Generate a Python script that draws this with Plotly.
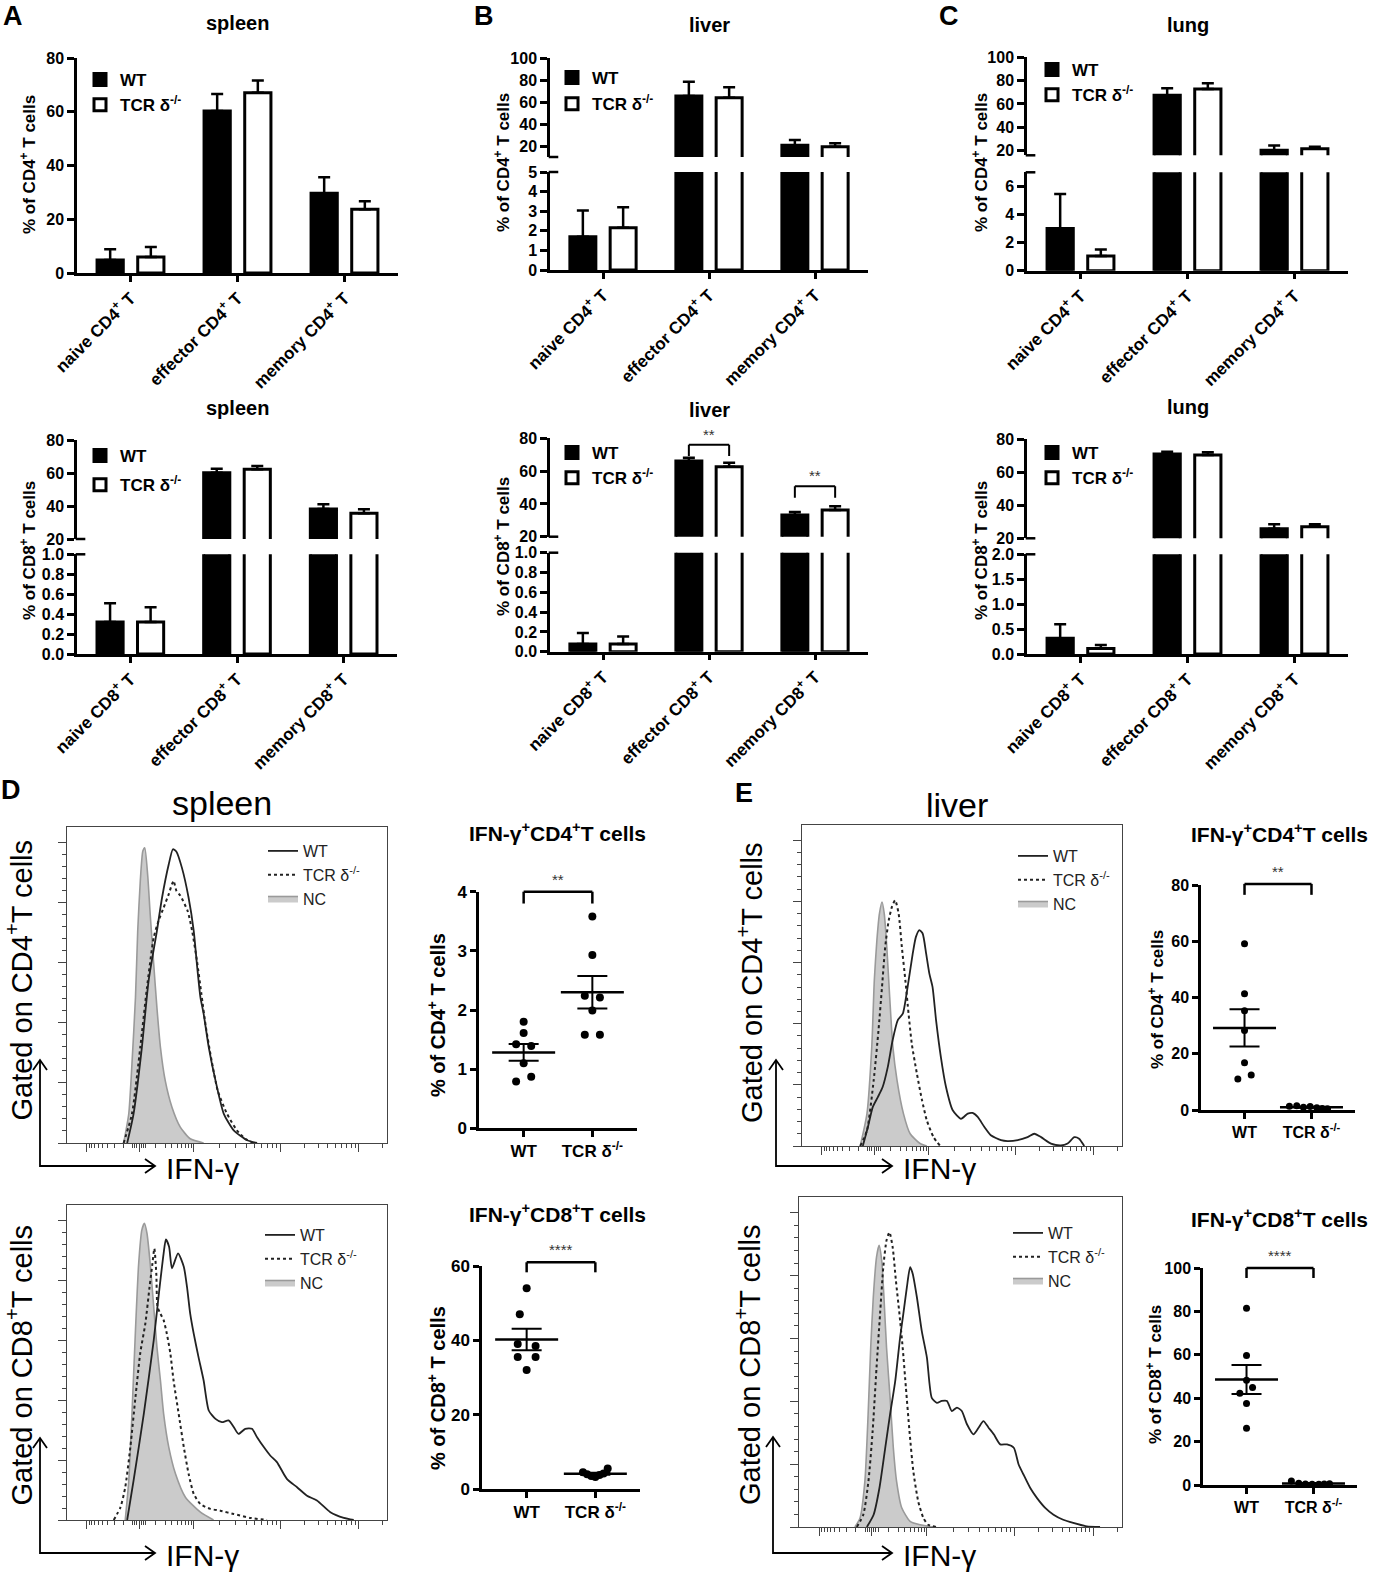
import numpy as np
import plotly.graph_objects as go

W, H = 1379, 1577
FONT = "Liberation Sans, Arial, Helvetica, sans-serif"

# ---------------- bar chart data (mean, SD) ----------------
groups = ["WT", "TCR δ<sup>-/-</sup>"]
cd4_cats = ["naive CD4<sup>+</sup> T", "effector CD4<sup>+</sup> T", "memory CD4<sup>+</sup> T"]
cd8_cats = ["naive CD8<sup>+</sup> T", "effector CD8<sup>+</sup> T", "memory CD8<sup>+</sup> T"]

spleen_cd4_wt = [4.8, 60.3, 29.7]
spleen_cd4_wt_sd = [4.0, 6.3, 5.9]
spleen_cd4_ko = [6.0, 67.1, 23.7]
spleen_cd4_ko_sd = [3.7, 4.5, 3.0]

liver_cd4_wt = [1.70, 65.5, 20.6]
liver_cd4_wt_sd = [1.33, 13.0, 4.9]
liver_cd4_ko = [2.16, 63.9, 19.4]
liver_cd4_ko_sd = [1.04, 9.5, 3.0]

lung_cd4_wt = [3.01, 67.5, 20.3]
lung_cd4_wt_sd = [2.45, 6.0, 4.0]
lung_cd4_ko = [1.04, 72.9, 21.7]
lung_cd4_ko_sd = [0.47, 4.8, 1.7]

spleen_cd8_wt = [0.32, 60.2, 38.2]
spleen_cd8_wt_sd = [0.19, 2.4, 2.8]
spleen_cd8_ko = [0.32, 62.2, 35.6]
spleen_cd8_ko_sd = [0.15, 2.0, 2.4]

liver_cd8_wt = [0.078, 66.2, 33.2]
liver_cd8_wt_sd = [0.11, 2.0, 1.9]
liver_cd8_ko = [0.078, 62.7, 36.3]
liver_cd8_ko_sd = [0.075, 2.4, 2.2]

lung_cd8_wt = [0.315, 71.1, 25.8]
lung_cd8_wt_sd = [0.28, 1.4, 2.7]
lung_cd8_ko = [0.11, 70.5, 27.0]
lung_cd8_ko_sd = [0.07, 1.6, 1.5]

# significance brackets on liver CD8: (category, bracket top, leg bottom, label)
liver_cd8_sig = [(1, 76.0, 69.2, "**"), (2, 50.7, 43.8, "**")]

# ---------------- dot plot data ----------------
spl_ifn_cd4_wt = [1.80, 1.61, 1.42, 1.39, 1.10, 0.87, 0.79]
spl_ifn_cd4_wt_dx = [0, 0, -0.11, 0.11, 0, 0.11, -0.11]
spl_ifn_cd4_ko = [3.58, 2.93, 2.24, 2.21, 1.99, 1.58, 1.58]
spl_ifn_cd4_ko_dx = [0, 0, -0.11, 0.11, 0, -0.11, 0.11]

spl_ifn_cd8_wt = [54.0, 47.0, 39.0, 38.5, 35.5, 35.5, 32.0]
spl_ifn_cd8_wt_dx = [0, -0.1, -0.13, 0.13, -0.13, 0.13, 0]
spl_ifn_cd8_ko = [5.5, 4.5, 4.0, 3.5, 3.2, 3.8, 4.2]
spl_ifn_cd8_ko_dx = [0.18, -0.18, -0.12, -0.06, 0.0, 0.06, 0.12]

liv_ifn_cd4_wt = [59.1, 41.3, 35.3, 28.3, 16.8, 12.4, 11.0]
liv_ifn_cd4_wt_dx = [0, 0, 0, 0, 0, 0.1, -0.1]
liv_ifn_cd4_ko = [1.3, 1.5, 1.0, 1.2, 0.8, 0.5, 0.4]
liv_ifn_cd4_ko_dx = [-0.33, -0.22, -0.12, -0.02, 0.08, 0.16, 0.24]

liv_ifn_cd8_wt = [81.5, 59.7, 48.3, 42.3, 44.9, 37.5, 26.1]
liv_ifn_cd8_wt_dx = [0, 0, 0, -0.1, 0.09, 0, 0]
liv_ifn_cd8_ko = [1.8, 0.8, 0.5, 0.4, 0.3, 0.5, 0.6]
liv_ifn_cd8_ko_dx = [-0.33, -0.22, -0.12, -0.02, 0.08, 0.16, 0.24]

# ---------------- histogram data (display channel 0-1000, % of max) ----------------
spl_cd4_nc_x = [177, 193, 203, 214, 221, 229, 237, 243, 252, 260, 271, 281, 292, 307, 328, 354, 385, 427]
spl_cd4_nc_y = [0, 9.7, 26.3, 48.4, 70.5, 87, 97, 98.1, 89.2, 76, 59.4, 45, 31.8, 20.7, 11.9, 5.3, 1.4, 0]
spl_cd4_wt_x = [188, 208, 234, 255, 281, 297, 318, 331, 342, 359, 380, 396, 406, 417, 427, 443, 464, 490, 521, 563, 594]
spl_cd4_wt_y = [0, 9.7, 31.8, 53.9, 70.5, 81.5, 92.6, 97.6, 96.8, 91.5, 81.5, 70.5, 59.4, 48.4, 42.9, 31.8, 20.8, 9.7, 4.2, 0.9, 0]
spl_cd4_ko_x = [177, 203, 229, 250, 271, 286, 302, 318, 328, 333, 342, 354, 377, 391, 406, 420, 434, 450, 471, 500, 531, 557, 583]
spl_cd4_ko_y = [0, 9.7, 31.8, 51.7, 68.3, 73.8, 78.2, 82.7, 86, 87.1, 83.8, 82.2, 77.1, 70.5, 60.6, 49.5, 38.5, 28.5, 17.4, 9.7, 4.2, 1.4, 0]

spl_cd8_nc_x = [182, 193, 203, 214, 224, 234, 242, 250, 260, 271, 281, 292, 302, 318, 339, 370, 417, 458]
spl_cd8_nc_y = [0, 13.1, 35.4, 63.3, 85.5, 96.7, 98.9, 95.5, 85.5, 71, 57.7, 46.5, 35.4, 24.3, 15.4, 7.6, 2.6, 0]
spl_cd8_ko_x = [146, 167, 182, 198, 214, 229, 245, 258, 267, 273, 279, 283, 292, 302, 312, 323, 333, 349, 365, 380,
                396, 417, 448, 479, 521, 573, 625]
spl_cd8_ko_y = [0, 4.2, 10.9, 24.3, 41, 55.7, 65.6, 77.7, 85.5, 90.5, 82.2, 71, 68.8, 66.6, 62.1, 55.5, 46.5, 35.4, 24.3,
                15.4, 8.7, 5.3, 3.7, 3.1, 2, 0.7, 0]
spl_cd8_wt_x = [188, 208, 240, 271, 286, 302, 309, 319, 328, 347, 365, 375, 385, 396, 411, 427, 443, 464, 484, 505, 521,
                536, 557, 578, 594, 615, 635, 656, 687, 719, 750, 781, 823, 865, 896]
spl_cd8_wt_y = [0, 13.1, 35.4, 59.9, 74.4, 88.9, 93.5, 91.1, 83.9, 88.9, 84.4, 77.7, 68.8, 62.1, 54.3, 46.5, 36.5, 33.7,
                32.6, 33.2, 31, 28.7, 30.4, 30.4, 27.6, 24.3, 21.5, 19.3, 13.7, 10.9, 8.1, 6.5, 2.6, 0.7, 0]

liv_cd4_nc_x = [182, 203, 218, 226, 234, 242, 250, 257, 265, 274, 284, 297, 317, 338, 369, 390]
liv_cd4_nc_y = [0, 10.6, 32.4, 54.2, 67.3, 76, 79.8, 76, 65.1, 48.8, 32.4, 21.5, 10.6, 4, 0.8, 0]
liv_cd4_ko_x = [182, 203, 224, 239, 250, 260, 271, 281, 291, 302, 312, 323, 333, 343, 359, 375, 390, 411, 432]
liv_cd4_ko_y = [0, 5.1, 21.5, 37.8, 52, 65.1, 73.8, 78.2, 80.4, 76, 65.1, 54.2, 43.3, 33.5, 23.7, 15, 8.4, 2.9, 0]
liv_cd4_wt_x = [190, 206, 221, 237, 252, 268, 283, 299, 315, 330, 346, 356, 367, 377, 388, 398, 408, 419, 434, 450, 471,
                497, 518, 533, 549, 570, 590, 622, 642, 674, 705, 726, 747, 778, 809, 830, 851, 866, 882]
liv_cd4_wt_y = [0, 6.2, 12.7, 16, 19.3, 25.8, 34.5, 41.1, 43.3, 52, 62.9, 68.4, 70.6, 69.5, 62.9, 56.4, 52, 41.1, 29.1,
                19.3, 11.7, 8.9, 10.6, 10.8, 9.5, 6.2, 3.5, 1.9, 1.6, 1.9, 2.9, 4, 2.9, 0.8, 0.2, 0.8, 2.9, 2.4, 0]

liv_cd8_nc_x = [173, 189, 204, 214, 222, 230, 240, 248, 256, 263, 271, 282, 292, 302, 318, 344, 375, 416]
liv_cd8_nc_y = [0, 2.9, 14.6, 35.9, 57.1, 73.1, 85.9, 89.6, 84.8, 73.1, 57.1, 41.1, 25.2, 14.6, 6.1, 1.8, 0.7, 0]
liv_cd8_ko_x = [179, 199, 215, 228, 240, 251, 261, 271, 280, 290, 300, 311, 321, 331, 342, 354, 369, 385, 400, 426]
liv_cd8_ko_y = [0, 3.9, 14.6, 30.5, 50.7, 67.8, 82.7, 91.2, 93.8, 89, 78.4, 67.8, 57.1, 44.3, 30.5, 17.7, 8.2, 2.9, 0.7, 0]
liv_cd8_wt_x = [210, 231, 249, 267, 282, 298, 313, 323, 334, 344, 352, 365, 380, 396, 411, 427, 442, 458, 473, 489, 504,
                520, 540, 556, 571, 587, 603, 623, 644, 665, 680, 695, 716, 737, 763, 788, 818, 849, 891, 932]
liv_cd8_wt_y = [0, 3.9, 12.4, 25.2, 35.9, 46.5, 60.3, 67.8, 76.3, 82.7, 80.6, 73.1, 62.4, 53.9, 41.1, 39.5, 40.1, 40.1,
                36.9, 38, 36.9, 32.7, 29.5, 31.6, 33.7, 31.6, 29.5, 26.3, 26.3, 25.2, 19.9, 16.7, 12.4, 9.2, 6, 3.9, 2.3,
                1.3, 0.2, 0]

# biexponential display ticks of the flow axis
hist_major = [62, 225, 396, 668, 912]

fig = go.Figure()
lay = {}
shapes = []
anns = []
xc, yc = [0], [0]


def fx(px):
    return px / W


def fy(py):
    return 1 - py / H


def new(c):
    c[0] += 1
    return c[0]


def key(kind, i):
    return f"{kind}axis{'' if i == 1 else i}"


def ref(kind, i):
    return f"{kind}{'' if i == 1 else i}"


def text(s, x, y, size, bold=False, angle=0, xanchor="center", color="black"):
    anns.append(dict(text=s, x=fx(x), y=fy(y), xref="paper", yref="paper", showarrow=False,
                     textangle=angle, xanchor=xanchor, yanchor="middle",
                     font=dict(family=FONT, size=size, color=color, weight="bold" if bold else "normal")))


def axis_base(**kw):
    d = dict(showgrid=False, zeroline=False, showline=True, linecolor="black", linewidth=2.5,
             ticks="outside", tickcolor="black", tickwidth=2.5, ticklen=6,
             tickfont=dict(family=FONT, size=16, weight="bold", color="black"))
    d.update(kw)
    return d


BAR_W = 0.245
OFFS = [-0.19 - BAR_W / 2, 0.19 - BAR_W / 2]
FILLS = ["black", "white"]


def bar_panel(p, leg):
    xi = new(xc)
    xr = ref("x", xi)
    seg_refs = []
    for k, seg in enumerate(p["segs"]):
        yi = new(yc)
        yr = ref("y", yi)
        seg_refs.append(yr)
        lay[key("y", yi)] = axis_base(domain=[fy(seg["pb"]), fy(seg["pt"])], range=seg["range"],
                                      tickvals=seg["ticks"], ticktext=[seg["fmt"].format(t) for t in seg["ticks"]],
                                      anchor=xr, ticklen=7)
        for g, (vals, sds) in enumerate(p["series"]):
            fig.add_bar(x=[0, 1, 2], y=vals, width=BAR_W, offset=OFFS[g], xaxis=xr, yaxis=yr,
                        marker=dict(color=FILLS[g], line=dict(color="black", width=3)),
                        error_y=dict(type="data", symmetric=False, array=sds, arrayminus=[0, 0, 0],
                                     color="black", thickness=2.5, width=6),
                        name=groups[g], legend=leg, legendgroup=f"{leg}_{g}", showlegend=(k == 0))
    lay[key("x", xi)] = axis_base(domain=[fx(p["x0"]), fx(p["x1"])], range=[-0.5, 2.5], tickvals=[0, 1, 2],
                                  ticktext=p["cats"], tickangle=-45, anchor=seg_refs[0],
                                  tickfont=dict(family=FONT, size=17, weight="bold", color="black"))
    if len(seg_refs) == 2:
        for yr, yv in [(seg_refs[0], 1), (seg_refs[1], 0)]:
            shapes.append(dict(type="line", xref=f"{xr} domain", yref=f"{yr} domain", x0=-0.004, x1=0.026,
                               y0=yv, y1=yv, line=dict(color="black", width=2.5)))
    for c, top, legy, lab in p.get("sig", []):
        yr = seg_refs[-1]
        for xa, ya, xb, yb in [(c - 0.19, legy, c - 0.19, top), (c - 0.19, top, c + 0.19, top),
                               (c + 0.19, top, c + 0.19, legy)]:
            shapes.append(dict(type="line", xref=xr, yref=yr, x0=xa, y0=ya, x1=xb, y1=yb,
                               line=dict(color="black", width=2)))
        anns.append(dict(text=lab, x=c, y=top, xref=xr, yref=yr, showarrow=False, yanchor="bottom", yshift=0,
                         font=dict(family=FONT, size=15, color="#333")))
    lay[leg] = dict(x=fx(p["leg"][0]), y=fy(p["leg"][1]), xanchor="left", yanchor="top",
                    bgcolor="rgba(0,0,0,0)", itemwidth=30, tracegroupgap=p["leg"][2],
                    font=dict(family=FONT, size=17, weight="bold", color="black"))
    text(p["title"], *p["title_pos"], 20, bold=True)
    text(p["ytitle"], *p["ytitle_pos"], 17, bold=True, angle=-90)


def dot_panel(p):
    xi, yi = new(xc), new(yc)
    xr, yr = ref("x", xi), ref("y", yi)
    fs = p["fs"]
    lay[key("x", xi)] = axis_base(domain=[fx(p["x0"]), fx(p["x1"])], range=[-0.65, 1.65], tickvals=[0, 1],
                                  ticktext=["WT", "TCR δ<sup>-/-</sup>"], anchor=yr,
                                  tickfont=dict(family=FONT, size=fs, weight="bold", color="black"))
    lay[key("y", yi)] = axis_base(domain=[fy(p["yb"]), fy(p["yt"])], range=p["range"], tickvals=p["ticks"],
                                  anchor=xr, tickfont=dict(family=FONT, size=fs, weight="bold", color="black"))
    for ci, (vals, dx) in enumerate(p["series"]):
        fig.add_scatter(x=[ci + d for d in dx], y=vals, mode="markers", xaxis=xr, yaxis=yr, showlegend=False,
                        marker=dict(color="black", size=p["ms"]), cliponaxis=False)
        m = float(np.mean(vals))
        se = float(np.std(vals, ddof=1) / np.sqrt(len(vals)))
        fig.add_scatter(x=[ci], y=[m], mode="markers", xaxis=xr, yaxis=yr, showlegend=False, cliponaxis=False,
                        marker=dict(symbol="line-ew", size=p["mw"], color="black", line=dict(color="black", width=2.5)),
                        error_y=dict(type="data", array=[se], color="black", thickness=2, width=p["mw"] / 3))
    lo, hi = p["range"]
    top = (p["bracket"][0] - lo) / (hi - lo)
    legy = (p["bracket"][1] - lo) / (hi - lo)
    for xa, ya, xb, yb in [(0, legy, 0, top), (0, top, 1, top), (1, top, 1, legy)]:
        shapes.append(dict(type="line", xref=xr, yref=f"{yr} domain", x0=xa, y0=ya, x1=xb, y1=yb,
                           line=dict(color="black", width=2.5)))
    anns.append(dict(text=p["bracket"][2], x=0.5, y=top, xref=xr, yref=f"{yr} domain", showarrow=False,
                     yanchor="bottom", yshift=2, font=dict(family=FONT, size=15, color="#333")))
    text(p["title"], *p["title_pos"], 21, bold=True)
    text(p["ytitle"], *p["ytitle_pos"], p["yfs"], bold=True, angle=-90)


def hist_panel(p, leg):
    xi, yi = new(xc), new(yc)
    xr, yr = ref("x", xi), ref("y", yi)
    frame = dict(showgrid=False, zeroline=False, showline=True, mirror=True, linecolor="#444", linewidth=1.2,
                 ticks="outside", tickcolor="#444", tickwidth=1.2, ticklen=8, showticklabels=False)
    x_minor = []
    for a, b in zip(hist_major[1:-1], hist_major[2:]):
        x_minor += [a + (b - a) * np.log10(k) for k in range(2, 10)]
    x_minor += [hist_major[1] - (hist_major[1] - hist_major[0]) * np.log10(k) for k in range(2, 10)]
    x_minor += [hist_major[1] + d for d in (-20, -13, -7, 7, 13, 20)]
    x_minor += [hist_major[-1] + (hist_major[-1] - hist_major[-2]) * np.log10(2)]
    lay[key("x", xi)] = dict(frame, domain=[fx(p["x0"]), fx(p["x1"])], range=[0, 1000], tickvals=hist_major,
                             anchor=yr, minor=dict(tickvals=x_minor, ticks="outside", ticklen=4, tickwidth=1,
                                                   tickcolor="#444"))
    lay[key("y", yi)] = dict(frame, domain=[fy(p["yb"]), fy(p["yt"])], range=[0, 105],
                             tickvals=list(range(0, 101, 20)), anchor=xr,
                             minor=dict(tickvals=[v for v in range(0, 101, 4) if v % 20], ticks="outside",
                                        ticklen=4, tickwidth=1, tickcolor="#444"))
    nc, ko, wt = p["curves"]
    fig.add_scatter(x=nc[0], y=nc[1], mode="lines", fill="tozeroy", fillcolor="#cbcbcb", xaxis=xr, yaxis=yr,
                    line=dict(color="#9a9a9a", width=1.6, shape="spline", smoothing=0.6),
                    name="NC", legend=leg, legendrank=3)
    fig.add_scatter(x=ko[0], y=ko[1], mode="lines", xaxis=xr, yaxis=yr,
                    line=dict(color="#222", width=2, dash="dot", shape="spline", smoothing=0.6),
                    name="TCR δ<sup>-/-</sup>", legend=leg, legendrank=2)
    fig.add_scatter(x=wt[0], y=wt[1], mode="lines", xaxis=xr, yaxis=yr,
                    line=dict(color="#222", width=1.8, shape="spline", smoothing=0.6),
                    name="WT", legend=leg, legendrank=1)
    lay[leg] = dict(x=fx(p["leg"][0]), y=fy(p["leg"][1]), xanchor="left", yanchor="top",
                    bgcolor="rgba(0,0,0,0)", itemwidth=30, tracegroupgap=0,
                    font=dict(family=FONT, size=16, color="#222"))
    if p.get("title"):
        text(p["title"], *p["title_pos"], 34)
    text(p["ytitle"], *p["ytitle_pos"], 29, angle=-90)
    # axis arrows under the histogram
    ax0, ay0, aytop, axend = p["arrow"]
    lw = dict(color="black", width=1.8)
    shapes.append(dict(type="path", xref="paper", yref="paper", line=lw,
                       path=f"M {fx(ax0)},{fy(aytop)} L {fx(ax0)},{fy(ay0)} L {fx(axend)},{fy(ay0)}"))
    shapes.append(dict(type="path", xref="paper", yref="paper", line=lw,
                       path=f"M {fx(ax0 - 7)},{fy(aytop + 10)} L {fx(ax0)},{fy(aytop)} L {fx(ax0 + 7)},{fy(aytop + 10)}"))
    shapes.append(dict(type="path", xref="paper", yref="paper", line=lw,
                       path=f"M {fx(axend - 10)},{fy(ay0 - 7)} L {fx(axend)},{fy(ay0)} L {fx(axend - 10)},{fy(ay0 + 7)}"))
    text("IFN-γ", axend + 9, ay0 + 2, 30, xanchor="left")


# ---------------- panels ----------------
bar_panel(dict(cats=cd4_cats, x0=77, x1=398,
               series=[(spleen_cd4_wt, spleen_cd4_wt_sd), (spleen_cd4_ko, spleen_cd4_ko_sd)],
               segs=[dict(pt=58, pb=273, range=[0, 80], ticks=[0, 20, 40, 60, 80], fmt="{}")],
               leg=(80, 62, 0), title="spleen", title_pos=(237, 23),
               ytitle="% of CD4<sup>+</sup> T cells", ytitle_pos=(28, 165)), "legend")
bar_panel(dict(cats=cd4_cats, x0=550, x1=868,
               series=[(liver_cd4_wt, liver_cd4_wt_sd), (liver_cd4_ko, liver_cd4_ko_sd)],
               segs=[dict(pt=172, pb=270, range=[0, 5], ticks=[0, 1, 2, 3, 4, 5], fmt="{}"),
                     dict(pt=58, pb=157, range=[10, 100], ticks=[20, 40, 60, 80, 100], fmt="{}")],
               leg=(552, 60, 1), title="liver", title_pos=(709, 25),
               ytitle="% of CD4<sup>+</sup> T cells", ytitle_pos=(502, 163)), "legend2")
bar_panel(dict(cats=cd4_cats, x0=1027, x1=1348,
               series=[(lung_cd4_wt, lung_cd4_wt_sd), (lung_cd4_ko, lung_cd4_ko_sd)],
               segs=[dict(pt=172.3, pb=270.7, range=[0, 7], ticks=[0, 2, 4, 6], fmt="{}"),
                     dict(pt=57.3, pb=155.3, range=[16, 100], ticks=[20, 40, 60, 80, 100], fmt="{}")],
               leg=(1032, 52, 0), title="lung", title_pos=(1188, 25),
               ytitle="% of CD4<sup>+</sup> T cells", ytitle_pos=(980, 163)), "legend3")
bar_panel(dict(cats=cd8_cats, x0=77, x1=397,
               series=[(spleen_cd8_wt, spleen_cd8_wt_sd), (spleen_cd8_ko, spleen_cd8_ko_sd)],
               segs=[dict(pt=554.3, pb=654, range=[0, 1], ticks=[0, 0.2, 0.4, 0.6, 0.8, 1.0], fmt="{:.1f}"),
                     dict(pt=440, pb=539, range=[20, 80], ticks=[20, 40, 60, 80], fmt="{}")],
               leg=(80, 438, 4), title="spleen", title_pos=(237, 408),
               ytitle="% of CD8<sup>+</sup> T cells", ytitle_pos=(28, 551)), "legend4")
bar_panel(dict(cats=cd8_cats, x0=550, x1=868,
               series=[(liver_cd8_wt, liver_cd8_wt_sd), (liver_cd8_ko, liver_cd8_ko_sd)],
               segs=[dict(pt=552.7, pb=651.7, range=[0, 1], ticks=[0, 0.2, 0.4, 0.6, 0.8, 1.0], fmt="{:.1f}"),
                     dict(pt=438.3, pb=536.7, range=[20, 80], ticks=[20, 40, 60, 80], fmt="{}")],
               leg=(552, 435, 0), title="liver", title_pos=(709, 410), sig=liver_cd8_sig,
               ytitle="% of CD8<sup>+</sup> T cells", ytitle_pos=(502, 547)), "legend5")
bar_panel(dict(cats=cd8_cats, x0=1027, x1=1348,
               series=[(lung_cd8_wt, lung_cd8_wt_sd), (lung_cd8_ko, lung_cd8_ko_sd)],
               segs=[dict(pt=554.3, pb=654, range=[0, 2], ticks=[0, 0.5, 1.0, 1.5, 2.0], fmt="{:.1f}"),
                     dict(pt=439.3, pb=538.3, range=[20, 80], ticks=[20, 40, 60, 80], fmt="{}")],
               leg=(1032, 435, 0), title="lung", title_pos=(1188, 407),
               ytitle="% of CD8<sup>+</sup> T cells", ytitle_pos=(980, 551)), "legend6")

hist_panel(dict(x0=67, x1=387, yt=827, yb=1143, leg=(263, 834),
                curves=[(spl_cd4_nc_x, spl_cd4_nc_y), (spl_cd4_ko_x, spl_cd4_ko_y), (spl_cd4_wt_x, spl_cd4_wt_y)],
                title="spleen", title_pos=(222, 803),
                ytitle="Gated on CD4<sup>+</sup>T cells", ytitle_pos=(19.5, 980),
                arrow=(40, 1166, 1060, 155)), "legend7")
hist_panel(dict(x0=67, x1=387, yt=1205, yb=1520, leg=(260, 1218),
                curves=[(spl_cd8_nc_x, spl_cd8_nc_y), (spl_cd8_ko_x, spl_cd8_ko_y), (spl_cd8_wt_x, spl_cd8_wt_y)],
                ytitle="Gated on CD8<sup>+</sup>T cells", ytitle_pos=(19.5, 1365),
                arrow=(40, 1553, 1438, 155)), "legend8")
hist_panel(dict(x0=802, x1=1122, yt=825, yb=1146, leg=(1013, 839),
                curves=[(liv_cd4_nc_x, liv_cd4_nc_y), (liv_cd4_ko_x, liv_cd4_ko_y), (liv_cd4_wt_x, liv_cd4_wt_y)],
                title="liver", title_pos=(957, 805),
                ytitle="Gated on CD4<sup>+</sup>T cells", ytitle_pos=(750, 983),
                arrow=(776, 1166, 1060, 892)), "legend9")
hist_panel(dict(x0=799, x1=1122, yt=1197, yb=1527, leg=(1008, 1216),
                curves=[(liv_cd8_nc_x, liv_cd8_nc_y), (liv_cd8_ko_x, liv_cd8_ko_y), (liv_cd8_wt_x, liv_cd8_wt_y)],
                ytitle="Gated on CD8<sup>+</sup>T cells", ytitle_pos=(748, 1365),
                arrow=(773, 1553, 1437, 892)), "legend10")

dot_panel(dict(x0=479, x1=637, yt=891.7, yb=1128.3, range=[0, 4], ticks=[0, 1, 2, 3, 4], fs=17, ms=8, mw=45,
               series=[(spl_ifn_cd4_wt, spl_ifn_cd4_wt_dx), (spl_ifn_cd4_ko, spl_ifn_cd4_ko_dx)],
               bracket=(4.0, 3.8, "**"), title="IFN-γ<sup>+</sup>CD4<sup>+</sup>T cells", title_pos=(557, 832),
               ytitle="% of CD4<sup>+</sup> T cells", ytitle_pos=(436, 1015), yfs=20))
dot_panel(dict(x0=482, x1=640, yt=1266, yb=1489, range=[0, 60], ticks=[0, 20, 40, 60], fs=17, ms=8, mw=45,
               series=[(spl_ifn_cd8_wt, spl_ifn_cd8_wt_dx), (spl_ifn_cd8_ko, spl_ifn_cd8_ko_dx)],
               bracket=(61, 58.3, "****"), title="IFN-γ<sup>+</sup>CD8<sup>+</sup>T cells", title_pos=(557, 1213),
               ytitle="% of CD8<sup>+</sup> T cells", ytitle_pos=(436, 1388), yfs=20))
dot_panel(dict(x0=1201, x1=1355, yt=885, yb=1110, range=[0, 80], ticks=[0, 20, 40, 60, 80], fs=16, ms=7, mw=45,
               series=[(liv_ifn_cd4_wt, liv_ifn_cd4_wt_dx), (liv_ifn_cd4_ko, liv_ifn_cd4_ko_dx)],
               bracket=(80.4, 76.5, "**"), title="IFN-γ<sup>+</sup>CD4<sup>+</sup>T cells", title_pos=(1279, 833),
               ytitle="% of CD4<sup>+</sup> T cells", ytitle_pos=(1156, 1000), yfs=17))
dot_panel(dict(x0=1203, x1=1357, yt=1268, yb=1485, range=[0, 100], ticks=[0, 20, 40, 60, 80, 100], fs=16, ms=7,
               mw=45, series=[(liv_ifn_cd8_wt, liv_ifn_cd8_wt_dx), (liv_ifn_cd8_ko, liv_ifn_cd8_ko_dx)],
               bracket=(100, 95.4, "****"), title="IFN-γ<sup>+</sup>CD8<sup>+</sup>T cells", title_pos=(1279, 1218),
               ytitle="% of CD8<sup>+</sup> T cells", ytitle_pos=(1154, 1375), yfs=17))

# panel letters
for s, x, y in [("A", 13, 16), ("B", 484, 16), ("C", 949, 16), ("D", 11, 790), ("E", 744, 793)]:
    text(s, x, y, 27, bold=True)

fig.update_layout(lay)
fig.update_layout(width=W, height=H, margin=dict(l=0, r=0, t=0, b=0), template="none",
                  paper_bgcolor="white", plot_bgcolor="rgba(0,0,0,0)", barmode="overlay",
                  font=dict(family=FONT, color="black"), shapes=shapes, annotations=anns, showlegend=True)
# the page body keeps its default 8px margin otherwise, which shifts the figure
fig.write_html("out.html", config={"displayModeBar": False},
               post_script="document.body.style.margin='0px';")
